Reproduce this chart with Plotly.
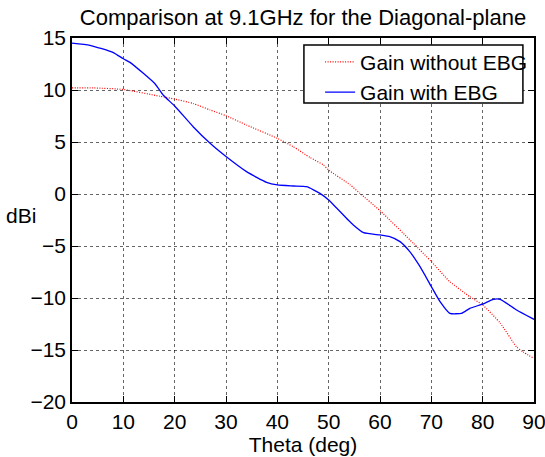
import plotly.graph_objects as go

theta_red = [0, 4.2, 10, 17.1, 20, 23.6, 26.9, 30, 34, 40, 43.1, 46.4, 49, 50, 54.2, 56.1, 60,
             66.5, 70, 73.6, 77.5, 80, 83.4, 86.6, 87.9, 90]
gain_without_ebg = [10.2, 10.2, 10.05, 9.4, 9.13, 8.7, 8.08, 7.53, 6.63, 5.35, 4.55, 3.5, 2.79, 2.3,
                    0.87, 0.06, -1.6, -4.74, -6.5, -8.43, -9.87, -10.67, -12.4, -14.7, -15.2, -15.8]

theta_blue = [0, 3.5, 8.05, 10, 11.3, 13.9, 16.2, 17.8, 20, 23.6, 26.9, 30, 34, 37.9, 40, 43.1,
              45.7, 48.3, 50, 53.8, 54.8, 56.8, 60, 61.9, 63.9, 65.8, 67.8, 70, 71.7, 73.6,
              75.9, 77.5, 80, 82.1, 83.4, 86.6, 90]
gain_with_ebg = [14.5, 14.3, 13.6, 13.0, 12.66, 11.6, 10.58, 9.5, 8.46, 6.47, 4.87, 3.6, 2.15, 1.12,
                 0.87, 0.77, 0.7, 0.06, -0.58, -2.5, -2.98, -3.72, -3.94, -4.1, -4.58, -5.54,
                 -6.99, -8.9, -10.35, -11.47, -11.47, -11.0, -10.58, -10.13, -10.13, -11.15, -12.05]

x_ticks = [0, 10, 20, 30, 40, 50, 60, 70, 80, 90]
y_ticks = [-20, -15, -10, -5, 0, 5, 10, 15]

FONT = "Liberation Sans, Arial, sans-serif"
FS = 21

fig = go.Figure()
fig.add_trace(go.Scatter(x=theta_red, y=gain_without_ebg, mode="lines", name="Gain without EBG",
                         line=dict(color="red", width=1.2, dash="1px,1.5px", shape="spline",
                                   smoothing=0.5)))
fig.add_trace(go.Scatter(x=theta_blue, y=gain_with_ebg, mode="lines", name="Gain with EBG",
                         line=dict(color="blue", width=1.3, shape="spline", smoothing=0.5)))

axis_common = dict(showline=True, linecolor="black", linewidth=1.5, mirror="allticks",
                   ticks="inside", ticklen=6, tickcolor="black", automargin=False,
                   ticklabeloverflow="allow",
                   showgrid=True, gridcolor="rgba(0,0,0,0.6)", griddash="dot", gridwidth=1,
                   zeroline=False, tickfont=dict(size=FS, color="black", family=FONT))

fig.update_xaxes(range=[0, 90], tickvals=x_ticks, **axis_common,
                 title=dict(text="Theta (deg)", font=dict(size=FS, color="black", family=FONT),
                            standoff=2))
fig.update_yaxes(range=[-20, 15], tickvals=y_ticks, ticklabelstandoff=0, **axis_common)

fig.add_annotation(text="dBi", xref="paper", yref="paper", x=0, y=0.511, xanchor="right",
                   yanchor="middle", xshift=-34, showarrow=False,
                   font=dict(size=FS, color="black", family=FONT))

# legend frame (white box with black border), drawn over the grid
fig.add_shape(type="rect", xref="paper", yref="paper", x0=0.502, x1=0.976, y0=0.8214, y1=0.981,
              fillcolor="white", line=dict(color="black", width=1.5), layer="above")

fig.update_layout(
    width=545, height=457,
    margin=dict(l=72, r=11, t=38, b=55, autoexpand=False),
    paper_bgcolor="white", plot_bgcolor="white",
    title=dict(text="Comparison at 9.1GHz for the Diagonal-plane", xref="paper", x=0.5,
               xanchor="center", y=0.963, yanchor="middle",
               font=dict(size=22, color="black", family=FONT)),
    legend=dict(x=0.537, y=0.99, xanchor="left", yanchor="top", bgcolor="rgba(0,0,0,0)",
                borderwidth=0, font=dict(size=FS, color="black", family=FONT),
                tracegroupgap=0),
    showlegend=True,
)

fig.write_html("out.html")
